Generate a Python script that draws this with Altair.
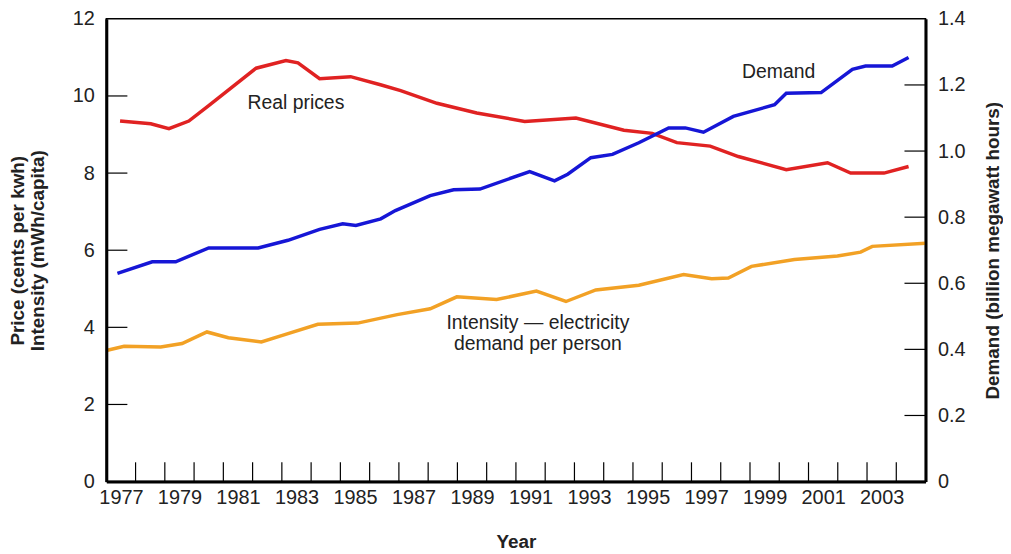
import altair as alt
import pandas as pd

# ---- data (x = year position, y = value) ----
red_years = [1976.97, 1978.02, 1978.64, 1979.32, 1980.00, 1981.62, 1982.64, 1983.05,
             1983.79, 1984.85, 1985.87, 1986.56, 1987.80, 1989.16, 1990.80, 1992.55,
             1994.19, 1995.16, 1996.00, 1997.14, 1998.10, 1999.74, 2001.15, 2001.94,
             2003.08, 2003.92]
red_values = [9.35, 9.28, 9.15, 9.35, 9.75, 10.72, 10.92, 10.86,
              10.45, 10.50, 10.29, 10.14, 9.81, 9.56, 9.34, 9.43,
              9.11, 9.03, 8.79, 8.70, 8.43, 8.09, 8.27, 8.00,
              8.00, 8.17]

blue_years = [1976.88, 1978.07, 1978.87, 1980.00, 1981.69, 1982.71, 1983.79, 1984.58,
              1985.03, 1985.88, 1986.38, 1987.57, 1988.37, 1989.27, 1990.97, 1991.82,
              1992.27, 1993.06, 1993.80, 1994.70, 1995.72, 1996.29, 1996.91, 1997.93,
              1999.34, 1999.74, 2000.93, 2002.00, 2002.45, 2003.36, 2003.92]
blue_values = [0.630, 0.665, 0.665, 0.707, 0.707, 0.730, 0.763, 0.780,
               0.775, 0.795, 0.820, 0.865, 0.883, 0.885, 0.938, 0.910,
               0.930, 0.980, 0.990, 1.025, 1.070, 1.070, 1.057, 1.105,
               1.140, 1.175, 1.177, 1.247, 1.257, 1.257, 1.283]

orange_years = [1976.50, 1977.11, 1978.36, 1979.09, 1979.94, 1980.67, 1981.80, 1982.60,
                1983.73, 1985.09, 1986.44, 1987.57, 1988.48, 1989.84, 1991.20, 1992.21,
                1993.23, 1994.70, 1996.23, 1997.19, 1997.76, 1998.55, 2000.02, 2001.49,
                2002.28, 2002.68, 2004.50]
orange_values = [3.40, 3.51, 3.49, 3.58, 3.88, 3.73, 3.62, 3.81,
                 4.08, 4.11, 4.33, 4.48, 4.79, 4.72, 4.94, 4.67,
                 4.97, 5.09, 5.37, 5.26, 5.28, 5.58, 5.76, 5.85,
                 5.95, 6.10, 6.18]

label_years = list(range(1977, 2004, 2))
tick_years = [y + 0.5 for y in range(1977, 2004)]
left_tick_values = [2, 4, 6, 8, 10]
left_label_values = [0, 2, 4, 6, 8, 10, 12]
right_tick_values = [0.2, 0.4, 0.6, 0.8, 1.0, 1.2]
right_label_values = [0, 0.2, 0.4, 0.6, 0.8, 1.0, 1.2, 1.4]

annot_text = ["Real prices", "Demand", "Intensity \u2014 electricity\ndemand per person"]
annot_years = [1982.98, 1999.48, 1991.25]
annot_values = [9.82, 10.62, 4.10]

X_DOMAIN = [1976.5, 2004.5]
LEFT_DOMAIN = [0, 12]
RIGHT_DOMAIN = [0, 1.4]

RED = "#e02222"
BLUE = "#1616d6"
ORANGE = "#f2a125"
FONT = "Liberation Sans"
NARROW = "Liberation Sans Narrow, Liberation Sans"

x_scale = alt.Scale(domain=X_DOMAIN, nice=False, zero=False)
yl_scale = alt.Scale(domain=LEFT_DOMAIN, nice=False, zero=False)
yr_scale = alt.Scale(domain=RIGHT_DOMAIN, nice=False, zero=False)

x_enc = alt.X(
    "year:Q",
    scale=x_scale,
    axis=alt.Axis(
        values=label_years, format="d", ticks=False, grid=False,
        domainWidth=3, domainColor="black", labelPadding=6,
        labelFontSize=20, labelFont=NARROW, labelFlush=False, title="Year",
        titleFontSize=19, titleFontWeight="bold", titlePadding=25, zindex=1,
    ),
)

red_df = pd.DataFrame({"year": red_years, "value": red_values})
blue_df = pd.DataFrame({"year": blue_years, "value": blue_values})
orange_df = pd.DataFrame({"year": orange_years, "value": orange_values})

red = alt.Chart(red_df).mark_line(color=RED, strokeWidth=3.5).encode(
    x=x_enc,
    y=alt.Y(
        "value:Q",
        scale=yl_scale,
        axis=alt.Axis(
            orient="left", values=left_label_values, ticks=False, grid=False,
            domainWidth=3, domainColor="black", labelPadding=12, labelFontSize=20,
            labelFont=NARROW,
            title=["Price (cents per kwh)", "Intensity (mWh/capita)"],
            titleFontSize=19, titleFontWeight="bold", titleLineHeight=20,
            titlePadding=25, zindex=1,
        ),
    ),
)

orange = alt.Chart(orange_df).mark_line(color=ORANGE, strokeWidth=3.5).encode(
    x=x_enc,
    y=alt.Y("value:Q", scale=yl_scale, axis=None),
)

blue = alt.Chart(blue_df).mark_line(color=BLUE, strokeWidth=3.5).encode(
    x=x_enc,
    y=alt.Y(
        "value:Q",
        scale=yr_scale,
        axis=alt.Axis(
            orient="right", values=right_label_values, ticks=False, grid=False,
            domainWidth=3, domainColor="black", labelPadding=12, labelFontSize=20,
            labelFont=NARROW,
            labelExpr="datum.value == 0 ? '0' : format(datum.value, '.1f')",
            title="Demand (billion megawatt hours)", titleFontSize=19,
            titleFontWeight="bold", titleAngle=270, titleBaseline="top",
            titlePadding=19, zindex=1,
        ),
    ),
)

bottom_ticks_df = pd.DataFrame({"year": tick_years, "v0": [0] * len(tick_years),
                                "v1": [0.5] * len(tick_years)})
bottom_ticks = alt.Chart(bottom_ticks_df).mark_rule(color="black", strokeWidth=1.2).encode(
    x=x_enc,
    y=alt.Y("v0:Q", scale=yl_scale, axis=None),
    y2="v1:Q",
)

left_ticks_df = pd.DataFrame({"year": [1976.5] * len(left_tick_values),
                              "year2": [1977.22] * len(left_tick_values),
                              "v": left_tick_values})
left_ticks = alt.Chart(left_ticks_df).mark_rule(color="black", strokeWidth=1.2).encode(
    x=x_enc,
    x2="year2:Q",
    y=alt.Y("v:Q", scale=yl_scale, axis=None),
)

right_ticks_df = pd.DataFrame({"year": [2003.78] * len(right_tick_values),
                               "year2": [2004.5] * len(right_tick_values),
                               "v": right_tick_values})
right_ticks = alt.Chart(right_ticks_df).mark_rule(color="black", strokeWidth=1.2).encode(
    x=x_enc,
    x2="year2:Q",
    y=alt.Y("v:Q", scale=yr_scale, axis=None),
)

annot_df = pd.DataFrame({"year": annot_years, "v": annot_values, "t": annot_text})
annots = alt.Chart(annot_df).mark_text(
    fontSize=19.5, font=FONT, color="#222222", align="center", baseline="middle",
    lineBreak="\n", lineHeight=21,
).encode(
    x=x_enc,
    y=alt.Y("v:Q", scale=yl_scale, axis=None),
    text="t:N",
)

chart = (
    alt.layer(red, orange, blue, bottom_ticks, left_ticks, right_ticks, annots)
    .resolve_scale(y="independent")
    .properties(
        width=825,
        height=466,
        autosize=alt.AutoSizeParams(type="none"),
        padding={"left": 99, "top": 9, "right": 78, "bottom": 70},
        background="white",
    )
    .configure_view(stroke="black", strokeWidth=1.5)
    .configure_axis(labelFont=FONT, titleFont=FONT, labelColor="#222222", titleColor="#222222")
)

chart.save("out.html", embed_options={"renderer": "svg", "actions": False})
